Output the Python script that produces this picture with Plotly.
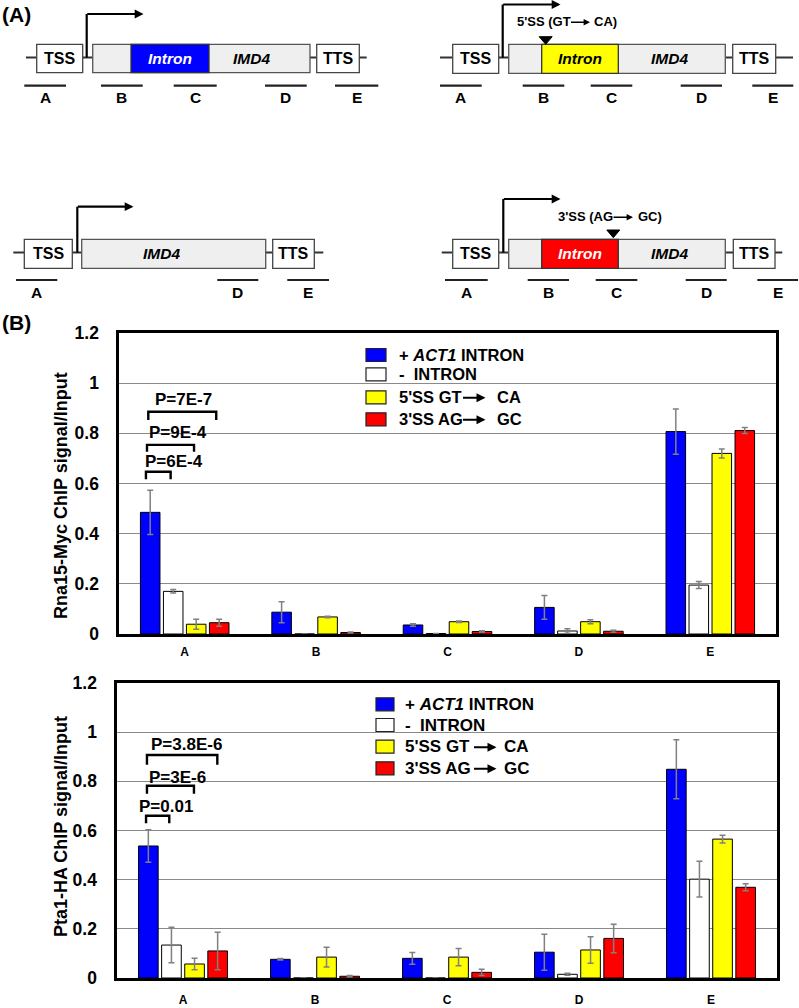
import plotly.graph_objects as go

W, H = 799, 1008
FONT = "Arial, 'Liberation Sans', sans-serif"

# ---------------- data ----------------
sites = ["A", "B", "C", "D", "E"]
series_labels = ["+ <i>ACT1</i> INTRON", "-\u00a0\u00a0INTRON", "5'SS GT", "3'SS AG"]
series_label_tail = ["", "", "CA", "GC"]
series_colors = ["#0000FF", "#FFFFFF", "#FFFF00", "#FF0000"]

rna15_plus = [0.485, 0.087, 0.036, 0.106, 0.807]
rna15_plus_err = [0.088, 0.042, 0.005, 0.047, 0.090]
rna15_minus = [0.170, 0.0, 0.002, 0.012, 0.195]
rna15_minus_err = [0.007, None, None, 0.009, 0.014]
rna15_5ss = [0.039, 0.068, 0.049, 0.049, 0.720]
rna15_5ss_err = [0.020, 0.003, 0.003, 0.008, 0.018]
rna15_3ss = [0.045, 0.006, 0.010, 0.011, 0.811]
rna15_3ss_err = [0.014, 0.002, 0.003, 0.004, 0.012]

pta1_plus = [0.537, 0.076, 0.080, 0.105, 0.849]
pta1_plus_err = [0.066, 0.003, 0.024, 0.073, 0.120]
pta1_minus = [0.134, 0.0, 0.0, 0.015, 0.402]
pta1_minus_err = [0.072, None, None, 0.004, 0.073]
pta1_5ss = [0.057, 0.085, 0.085, 0.114, 0.565]
pta1_5ss_err = [0.023, 0.040, 0.035, 0.054, 0.016]
pta1_3ss = [0.110, 0.007, 0.023, 0.161, 0.369]
pta1_3ss_err = [0.076, 0.003, 0.013, 0.058, 0.014]

rna15_pvals = ["P=6E-4", "P=9E-4", "P=7E-7"]
pta1_pvals = ["P=0.01", "P=3E-6", "P=3.8E-6"]

y_ticks = [0, 0.2, 0.4, 0.6, 0.8, 1.0, 1.2]
y_ticktext = ["0", "0.2", "0.4", "0.6", "0.8", "1", "1.2"]

# ---------------- helpers ----------------
def px(x):
    return x / W


def py(y):
    return 1 - y / H


shapes = []
annotations = []


def line(x0, y0, x1, y1, color="#222", w=1.5):
    shapes.append(dict(type="line", xref="paper", yref="paper",
                       x0=px(x0), y0=py(y0), x1=px(x1), y1=py(y1),
                       line=dict(color=color, width=w)))


def rect(x0, y0, x1, y1, fill, color="#444", w=1.2):
    shapes.append(dict(type="rect", xref="paper", yref="paper",
                       x0=px(x0), x1=px(x1), y0=py(y1), y1=py(y0),
                       fillcolor=fill, line=dict(color=color, width=w)))


def text(x, y, s, size=15, color="black", xanchor="center", bold=True, italic=False, angle=0):
    t = s
    if italic:
        t = "<i>" + t + "</i>"
    if bold:
        t = "<b>" + t + "</b>"
    annotations.append(dict(x=px(x), y=py(y), xref="paper", yref="paper", text=t,
                            showarrow=False, xanchor=xanchor, yanchor="middle",
                            textangle=angle,
                            font=dict(family=FONT, size=size, color=color)))


def arrow(x_tail, x_head, y, w=2, size=0.8):
    annotations.append(dict(x=px(x_head), y=py(y), xref="paper", yref="paper",
                            ax=-(x_head - x_tail), ay=0, text="", showarrow=True,
                            arrowhead=2, arrowsize=size, arrowwidth=w,
                            arrowcolor="black", standoff=0, startstandoff=0))


def triangle(xc, ytop, ytip, half=6.5):
    shapes.append(dict(type="path", xref="paper", yref="paper",
                       path=f"M {px(xc-half)},{py(ytop)} L {px(xc+half)},{py(ytop)} L {px(xc)},{py(ytip)} Z",
                       fillcolor="black", line=dict(color="black", width=1)))


def gene(d):
    yb = d["yb"]
    top, bot = d["box"]
    line(d["stub_l"], yb, d["tss"][0], yb, "#333", 2)
    line(d["tss"][1], yb, d["gene"][0], yb, "#333", 2)
    line(d["gene"][1], yb, d["tts"][0], yb, "#333", 2)
    line(d["tts"][1], yb, d["stub_r"], yb, "#333", 2)
    rect(d["tss"][0], top, d["tss"][1], bot, "white", "#444", 1.3)
    rect(d["gene"][0], top, d["gene"][1], bot, "#EFEFEF", "#555", 1.3)
    if d.get("intron"):
        rect(d["intron"][0], top, d["intron"][1], bot, d["intron_color"], "#333", 1.3)
        text((d["intron"][0] + d["intron"][1]) / 2, (top + bot) / 2, "Intron",
             15.5, d["intron_text"], italic=True)
    rect(d["tts"][0], top, d["tts"][1], bot, "white", "#444", 1.3)
    text((d["tss"][0] + d["tss"][1]) / 2, (top + bot) / 2, "TSS", 16)
    text((d["tts"][0] + d["tts"][1]) / 2, (top + bot) / 2, "TTS", 16)
    text(d["imd4_x"], (top + bot) / 2, "IMD4", 15.5, italic=True)
    # promoter arrow
    ax_, ytop, xend = d["prom"]
    line(ax_, yb, ax_, ytop, "black", 2.2)
    arrow(ax_ - 1, xend, ytop, 2.2, 0.8)
    # amplicons
    for lab, (s0, s1) in d["amp"].items():
        line(s0, d["amp_y"], s1, d["amp_y"], "#222", 2.2)
        text((s0 + s1) / 2, d["amp_lab_y"], lab, 15.5)
    if d.get("mut"):
        m = d["mut"]
        text(m["x0"], m["y"], m["pre"], 13, xanchor="left")
        arrow(m["ax0"], m["ax1"], m["y"] + 0.5, 1.6, 0.8)
        text(m["x1"], m["y"], m["post"], 13, xanchor="left")
        triangle(m["tri_x"], m["tri_y0"], m["tri_y1"])


# ---------------- panel A diagrams ----------------
diagrams = [
    dict(yb=57.5, box=(44.3, 72.7), stub_l=26, tss=(36.7, 82.7), gene=(92.7, 310),
         tts=(316.7, 359.3), stub_r=366.7, intron=(131, 209), intron_color="#0000FF",
         intron_text="white", imd4_x=251, prom=(86.7, 14, 143.5),
         amp={"A": (24.3, 66), "B": (101, 142.7), "C": (173.7, 216.7),
              "D": (265, 306.7), "E": (335, 378.3)}, amp_y=85.7, amp_lab_y=97.8),
    dict(yb=57.5, box=(44.3, 73.3), stub_l=440, tss=(452.7, 498.7), gene=(508.7, 725.3),
         tts=(732.7, 775.7), stub_r=793, intron=(541.7, 618.3), intron_color="#FFFF00",
         intron_text="black", imd4_x=669, prom=(502.7, 4.5, 560.5),
         amp={"A": (440, 481.7), "B": (522.7, 564.3), "C": (590.7, 632.3),
              "D": (680.7, 722), "E": (752.3, 793.3)}, amp_y=85.7, amp_lab_y=97.8,
         mut=dict(x0=515, pre="5'SS (GT", ax0=569.5, ax1=590, x1=591.5, post="CA)",
                  y=21.7, tri_x=545.7, tri_y0=36.7, tri_y1=44.3)),
    dict(yb=252.5, box=(239.3, 268.3), stub_l=13.3, tss=(24.3, 72.3), gene=(81.7, 265.7),
         tts=(272.7, 314.3), stub_r=323.3, imd4_x=161.7, prom=(77.3, 206.7, 133.5),
         amp={"A": (16, 57.3), "D": (217.3, 258.3), "E": (287.3, 329)},
         amp_y=280, amp_lab_y=292.7),
    dict(yb=252.5, box=(239.3, 268.3), stub_l=441.7, tss=(452.7, 498.7), gene=(508.7, 725.3),
         tts=(733.3, 775), stub_r=782.3, intron=(541.7, 618.3), intron_color="#FF0000",
         intron_text="white", imd4_x=669, prom=(503.3, 199, 560.5),
         amp={"A": (445, 487.7), "B": (527.7, 569), "C": (595.7, 637.3),
              "D": (685.7, 726.7), "E": (757.3, 798)}, amp_y=280, amp_lab_y=292.7,
         mut=dict(x0=555.5, pre="3'SS (AG", ax0=612, ax1=633, x1=636, post="GC)",
                  y=216.7, tri_x=613.3, tri_y0=230, tri_y1=237.7)),
]
for d in diagrams:
    gene(d)

text(0, 15, "(A)", 21, xanchor="left")
text(0, 322, "(B)", 21, xanchor="left")

# ---------------- panel B bar charts ----------------
fig = go.Figure()

panels = [
    dict(xa="x", ya="y",
         series=[(rna15_plus, rna15_plus_err), (rna15_minus, rna15_minus_err),
                 (rna15_5ss, rna15_5ss_err), (rna15_3ss, rna15_3ss_err)],
         pvals=rna15_pvals),
    dict(xa="x2", ya="y2",
         series=[(pta1_plus, pta1_plus_err), (pta1_minus, pta1_minus_err),
                 (pta1_5ss, pta1_5ss_err), (pta1_3ss, pta1_3ss_err)],
         pvals=pta1_pvals),
]

for p in panels:
    for (vals, errs), col in zip(p["series"], series_colors):
        fig.add_trace(go.Bar(
            x=sites, y=vals, xaxis=p["xa"], yaxis=p["ya"],
            marker=dict(color=col, line=dict(color="black", width=1)),
            error_y=dict(type="data", array=errs, visible=True,
                         color="#808080", thickness=1.5, width=3),
            showlegend=False, hoverinfo="skip"))

# significance brackets (category-index units on x, data units on y)
brackets = [
    dict(xa="x", ya="y",
         spans=[(-0.295, -0.107, 0.647, 0.617), (-0.287, 0.071, 0.754, 0.727),
                (-0.277, 0.240, 0.886, 0.853)],
         labels=[(-0.084, 0.687), (-0.053, 0.803), (-0.011, 0.936)]),
    dict(xa="x2", ya="y2",
         spans=[(-0.280, -0.104, 0.660, 0.629), (-0.273, 0.083, 0.782, 0.749),
                (-0.273, 0.260, 0.907, 0.867)],
         labels=[(-0.129, 0.697), (-0.040, 0.817), (0.025, 0.948)]),
]
for b, p in zip(brackets, panels):
    for (x0, x1, yt, yl), (lx, ly), lab in zip(b["spans"], b["labels"], p["pvals"]):
        shapes.append(dict(type="path", xref=b["xa"], yref=b["ya"],
                           path=f"M {x0},{yl} L {x0},{yt} L {x1},{yt} L {x1},{yl}",
                           line=dict(color="black", width=2.4)))
        annotations.append(dict(x=lx, y=ly, xref=b["xa"], yref=b["ya"], text=f"<b>{lab}</b>",
                                showarrow=False, xanchor="center", yanchor="middle",
                                font=dict(family=FONT, size=17, color="black")))

# custom legends (pixel layout)
legends = [
    dict(sq=(366, 386), rows=[355, 374.3, 397.3, 419.3], tx=396.7, arr=(461.5, 485.5), tail=495, size=16.5),
    dict(sq=(376, 394), rows=[704.3, 725, 746.7, 768.3], tx=403, arr=(472.5, 496.5), tail=501.5, size=17),
]
for lg in legends:
    for lab, tail, col, ry in zip(series_labels, series_label_tail, series_colors, lg["rows"]):
        rect(lg["sq"][0], ry - 6.5, lg["sq"][1], ry + 6.5, col, "#222", 1.2)
        text(lg["tx"], ry, lab, lg["size"], xanchor="left")
        if tail:
            arrow(lg["arr"][0], lg["arr"][1], ry + 0.5, 2, 0.9)
            text(lg["tail"], ry, tail, lg["size"], xanchor="left")

# y axis titles
text(61, 496, "Rna15-Myc ChIP signal/Input", 18, angle=-90)
text(61, 827, "Pta1-HA ChIP signal/Input", 18, angle=-90)

axis_common = dict(showline=True, mirror=True, linecolor="black", linewidth=2.6, ticks="",
                   automargin=False)
yaxis_common = dict(axis_common, range=[0, 1.2], tickvals=y_ticks, ticktext=y_ticktext,
                    showgrid=True, gridcolor="#8a8a8a", gridwidth=1.2, zeroline=False,
                    tickfont=dict(family=FONT, size=17.5, color="black", weight="bold"),
                    ticklabelstandoff=14, fixedrange=True)
xaxis_common = dict(axis_common, type="category", categoryorder="array", categoryarray=sites,
                    showgrid=False,
                    tickfont=dict(family=FONT, size=12, color="black", weight="bold"),
                    fixedrange=True)

fig.update_layout(
    template="none",
    width=W, height=H, margin=dict(l=0, r=0, t=0, b=0, pad=0, autoexpand=False),
    paper_bgcolor="white", plot_bgcolor="white",
    barmode="group", bargap=0.3, bargroupgap=0.15,
    xaxis=dict(xaxis_common, domain=[px(119), px(776)], anchor="y", ticklabelstandoff=5),
    yaxis=dict(yaxis_common, domain=[py(634), py(333)], anchor="x"),
    xaxis2=dict(xaxis_common, domain=[px(117), px(777)], anchor="y2", ticklabelstandoff=9),
    yaxis2=dict(yaxis_common, domain=[py(978), py(683)], anchor="x2"),
    shapes=shapes, annotations=annotations,
    font=dict(family=FONT, color="black"),
)

page_fix = (
    "document.documentElement.style.margin='0';"
    "document.body.style.margin='0';"
    "document.body.style.overflow='hidden';"
)
fig.write_html("out.html", post_script=page_fix,
               config={"displayModeBar": False, "staticPlot": True})
